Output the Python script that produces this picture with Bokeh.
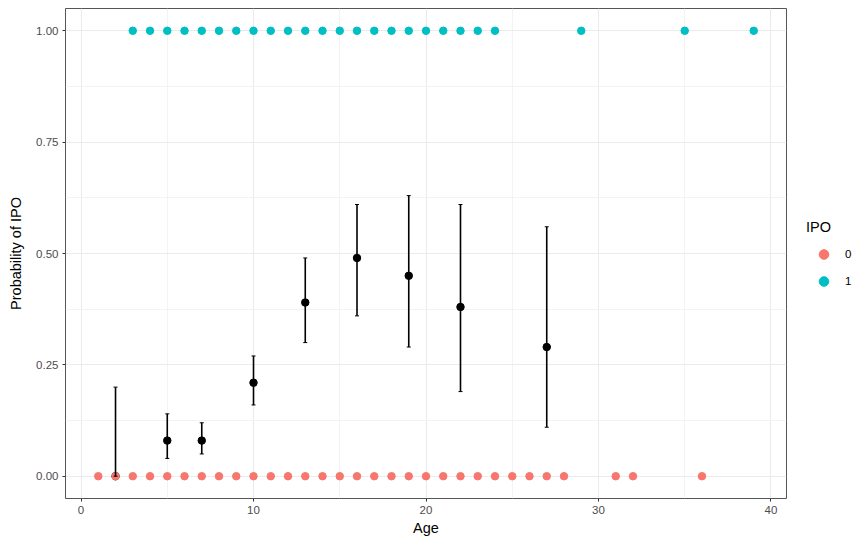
from bokeh.plotting import figure
from bokeh.models import (ColumnDataSource, Range1d, FixedTicker, Whisker, TeeHead,
                          Legend, LegendItem, NumeralTickFormatter)
from bokeh.embed import file_html
from bokeh.resources import INLINE

# IPO = 0 observations (ages)
age_ipo0 = [1, 2, 3, 4, 5, 6, 7, 8, 9, 10, 11, 12, 13, 14, 15, 16, 17, 18, 19, 20,
            21, 22, 23, 24, 25, 26, 27, 28, 31, 32, 36]
# IPO = 1 observations (ages)
age_ipo1 = [3, 4, 5, 6, 7, 8, 9, 10, 11, 12, 13, 14, 15, 16, 17, 18, 19, 20, 21, 22,
            23, 24, 29, 35, 39]

# summary (mean and interval) by age
sum_age = [2, 5, 7, 10, 13, 16, 19, 22, 27]
sum_mean = [0.0, 0.08, 0.08, 0.21, 0.39, 0.49, 0.45, 0.38, 0.29]
sum_lower = [0.0, 0.04, 0.05, 0.16, 0.30, 0.36, 0.29, 0.19, 0.11]
sum_upper = [0.20, 0.14, 0.12, 0.27, 0.49, 0.61, 0.63, 0.61, 0.56]

x_ticks = [0, 10, 20, 30, 40]
x_minor = [5, 15, 25, 35]
y_ticks = [0.0, 0.25, 0.5, 0.75, 1.0]
y_minor = [0.125, 0.375, 0.625, 0.875]

RED = "#F8766D"
TEAL = "#00BFC4"
FONT = "Liberation Sans"

p = figure(frame_width=721, frame_height=490, output_backend="svg", toolbar_location=None,
           x_range=Range1d(-0.9, 40.9), y_range=Range1d(-0.05, 1.05),
           min_border_left=65, min_border_right=67, min_border_top=8, min_border_bottom=38)
p.background_fill_color = "white"
p.border_fill_color = "white"
p.outline_line_color = "#555555"
p.outline_line_width = 1

p.xaxis.ticker = FixedTicker(ticks=x_ticks, minor_ticks=x_minor)
p.yaxis.ticker = FixedTicker(ticks=y_ticks, minor_ticks=y_minor)
p.yaxis.formatter = NumeralTickFormatter(format="0.00")

for ax in (p.xaxis, p.yaxis):
    ax.axis_line_color = None
    ax.major_tick_line_color = "#333333"
    ax.major_tick_in = 0
    ax.major_tick_out = 3
    ax.minor_tick_line_color = None
    ax.major_label_text_font = FONT
    ax.major_label_text_font_size = "11.5px"
    ax.major_label_text_color = "#4D4D4D"
    ax.axis_label_text_font = FONT
    ax.axis_label_text_font_size = "14.5px"
    ax.axis_label_text_font_style = "normal"
    ax.axis_label_text_color = "black"

p.xaxis.axis_label = "Age"
p.yaxis.axis_label = "Probability of IPO"
p.xaxis.major_label_standoff = 3
p.xaxis.axis_label_standoff = 3
p.yaxis.major_label_standoff = 3
p.yaxis.axis_label_standoff = 9

for g in (p.xgrid, p.ygrid):
    g.grid_line_color = "#EBEBEB"
    g.grid_line_width = 1.1
    g.minor_grid_line_color = "#F3F3F3"
    g.minor_grid_line_width = 1

src_sum = ColumnDataSource(dict(x=sum_age, m=sum_mean, lo=sum_lower, hi=sum_upper))
wh = Whisker(base="x", upper="hi", lower="lo", source=src_sum, dimension="height",
             line_color="black", line_width=1.6, level="glyph",
             upper_head=TeeHead(size=4, line_color="black", line_width=1),
             lower_head=TeeHead(size=4, line_color="black", line_width=1))
p.add_layout(wh)
p.scatter("x", "m", source=src_sum, size=7.5, color="black")

r0 = p.scatter(x=age_ipo0, y=[0.0] * len(age_ipo0), size=7.5, color=RED)
r1 = p.scatter(x=age_ipo1, y=[1.0] * len(age_ipo1), size=7.5, color=TEAL)

legend = Legend(items=[LegendItem(label="0", renderers=[r0]),
                       LegendItem(label="1", renderers=[r1])],
                location=(20, 205), title="IPO")
legend.title_text_font = FONT
legend.title_text_font_size = "14.5px"
legend.title_text_font_style = "normal"
legend.title_text_color = "black"
legend.title_standoff = 7
legend.label_text_font = FONT
legend.label_text_font_size = "11.5px"
legend.label_text_color = "black"
legend.glyph_width = 35
legend.glyph_height = 24
legend.spacing = 3
legend.label_standoff = 4
legend.padding = 0
legend.margin = 0
legend.border_line_color = None
legend.background_fill_alpha = 0
p.add_layout(legend, "right")

open("out.html", "w").write(file_html(p, INLINE))
